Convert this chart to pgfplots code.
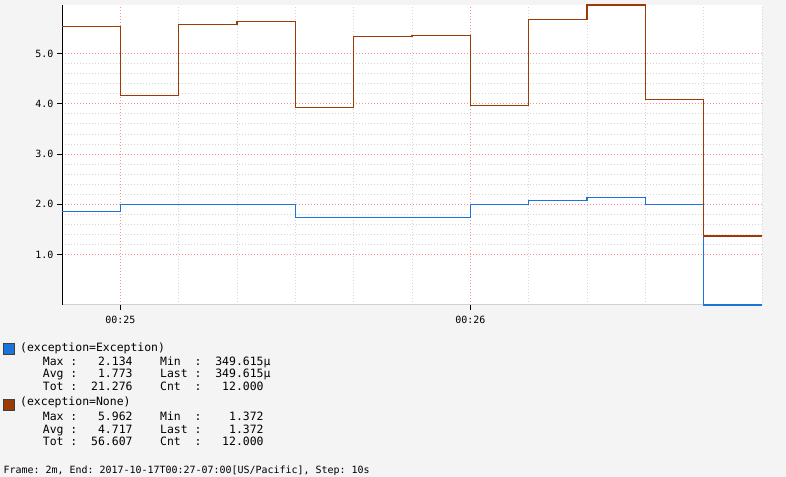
\documentclass[border=0pt]{standalone}
\usepackage{pgfplots}
\pgfplotsset{compat=1.18}
\usepackage{fontspec}
\newfontfamily\monofont{DejaVu Sans Mono}

\definecolor{bgcol}{HTML}{F4F4F4}
\definecolor{excblue}{HTML}{1B74DA}
\definecolor{nonebrown}{HTML}{9A3B05}
\definecolor{majgrid}{HTML}{FF8F8F}
\definecolor{mingrid}{HTML}{D6D6D6}

\newcommand{\legfont}{\monofont\fontsize{11.5}{13}\selectfont}
\newcommand{\tickfont}{\monofont\fontsize{10}{12}\selectfont}

\begin{document}
\begin{tikzpicture}[x=1bp,y=1bp]
\fill[bgcol] (0,0) rectangle (786,477);
\useasboundingbox (0,0) rectangle (786,477);

\begin{axis}[
    at={(62bp,172bp)}, anchor=south west,
    scale only axis, width=700bp, height=300bp,
    xmin=50, xmax=170, ymin=0, ymax=5.962,
    axis lines*=left,
    axis line style={-},
    x axis line style={draw=black!18, line width=1bp},
    y axis line style={draw=black, line width=1bp},
    axis background/.style={fill=white},
    tick align=outside,
    major tick length=5bp,
    minor tick length=0pt,
    tick style={black, line width=1bp},
    xtick={60,120}, xticklabels={00:25,00:26},
    minor xtick={50,60,...,170},
    ytick={1,2,3,4,5}, yticklabels={1.0,2.0,3.0,4.0,5.0},
    minor y tick num=4,
    grid=both,
    major grid style={majgrid, line width=0.8bp, dash pattern=on 1bp off 2bp},
    minor grid style={mingrid, line width=0.8bp, dash pattern=on 1bp off 2bp},
    tick label style={font=\tickfont},
    xticklabel style={yshift=-2.5bp},
    clip=false,
]
% exception=Exception
\addplot[const plot, excblue, line width=1.2bp] coordinates {
    (50,1.853) (60,2.0) (70,2.0) (80,2.0) (90,1.74) (100,1.74)
    (110,1.74) (120,2.0) (130,2.07) (140,2.134) (150,2.0) (160,0.00035)
    (170,0.00035)
};
% exception=None
\addplot[const plot, nonebrown, line width=1.2bp] coordinates {
    (50,5.54) (60,4.17) (70,5.58) (80,5.64) (90,3.93) (100,5.33)
    (110,5.35) (120,3.97) (130,5.68) (140,5.962) (150,4.09) (160,1.372)
    (170,1.372)
};
\end{axis}

% legend
\filldraw[fill=excblue, draw=black!75, line width=0.8bp] (3,123) rectangle (14,134);
\filldraw[fill=nonebrown, draw=black!75, line width=0.8bp] (3,67) rectangle (14,78);
\begin{scope}[every node/.style={anchor=base west, inner sep=0pt, font=\legfont}]
\node at (20,125)   {(exception=Exception)};
\node at (22,111.7) {~~~Max~:~~~2.134~~~~Min~~:~~349.615μ};
\node at (22,99)    {~~~Avg~:~~~1.773~~~~Last~:~~349.615μ};
\node at (22,86.3)  {~~~Tot~:~~21.276~~~~Cnt~~:~~~12.000};
\node at (20,71)    {(exception=None)};
\node at (22,56.3)  {~~~Max~:~~~5.962~~~~Min~~:~~~~1.372};
\node at (22,43.7)  {~~~Avg~:~~~4.717~~~~Last~:~~~~1.372};
\node at (22,31)    {~~~Tot~:~~56.607~~~~Cnt~~:~~~12.000};
\end{scope}
\node[anchor=base west, inner sep=0pt, font=\tickfont] at (3.5,3)
  {Frame:~2m,~End:~2017-10-17T00:27-07:00[US/Pacific],~Step:~10s};
\end{tikzpicture}
\end{document}
